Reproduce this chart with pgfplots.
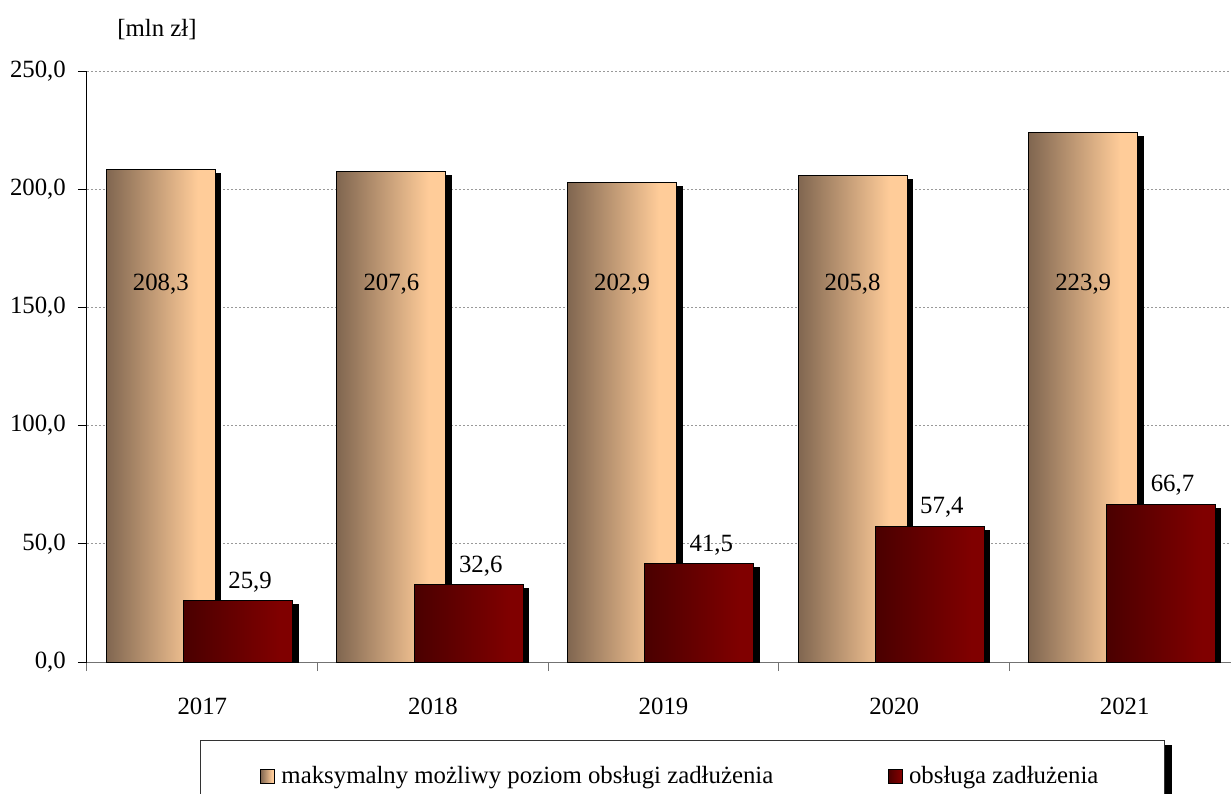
\documentclass[12pt,border=0pt]{standalone}
\usepackage{fontspec}
\setmainfont{Liberation Serif}
\usepackage{pgfplots}
\pgfplotsset{compat=1.18}
\usetikzlibrary{shadows,backgrounds}

\definecolor{peachD}{HTML}{806650}
\definecolor{peachL}{HTML}{FFCC99}
\definecolor{redD}{HTML}{4A0000}
\definecolor{redL}{HTML}{800000}
\pgfdeclarehorizontalshading{peachsh}{100bp}{color(0bp)=(peachD); color(25bp)=(peachD); color(67bp)=(peachL); color(100bp)=(peachL)}
\pgfdeclarehorizontalshading{redsh}{100bp}{color(0bp)=(redD); color(25bp)=(redD); color(69bp)=(redL); color(100bp)=(redL)}

\pgfplotsset{
  sqlegend/.style={legend image code/.code={\draw[##1] (0pt,-3.5pt) rectangle (7pt,3.5pt);}},
  barA/.style={ybar, forget plot, bar width=54.5pt, bar shift=-20.75pt, draw=black, line width=0.5pt},
  barB/.style={ybar, forget plot, bar width=54.5pt, bar shift=17.9pt, draw=black, line width=0.5pt},
  shadowed/.style={fill=black, drop shadow={shadow xshift=2.75pt, shadow yshift=-2pt, fill=black, opacity=1}},
}

\begin{document}
\fontsize{12.4}{14.5}\selectfont
\begin{tikzpicture}
\begin{axis}[
  scale only axis, width=576.5pt, height=295.5pt,
  xmin=-0.5, xmax=4.5, ymin=0, ymax=250,
  axis x line=bottom, axis y line=left,
  axis line style={-, line width=0.5pt},
  x axis line style={black!55},
  ytick={0,50,...,250},
  xtick={0,...,4}, xticklabels={2017,2018,2019,2020,2021},
  minor xtick={-0.5,0.5,...,4.5},
  tick align=outside, major tick length=4.5pt, minor tick length=4.5pt,
  major x tick style={draw=none},
  minor x tick style={black!55, line width=0.5pt},
  major y tick style={black, line width=0.5pt},
  ymajorgrids, grid style={black!40, dash pattern=on 1pt off 1pt, line width=0.5pt},
  /pgf/number format/.cd, use comma, fixed, fixed zerofill, precision=1, assume math mode=true,
  /pgfplots/.cd,
  yticklabel style={xshift=-1.75pt},
  xticklabel style={yshift=-9pt},
  legend style={name=leg, at={(0.098,-0.132)}, anchor=north west, legend columns=2,
    draw=black!80, fill=white, line width=0.5pt, inner xsep=29.8pt, inner ysep=9.5pt,
    nodes={inner sep=3.2pt},
    /tikz/every even column/.append style={column sep=54pt}},
]
\addlegendimage{sqlegend, draw=black, line width=0.5pt, shade, shading=peachsh}
\addlegendentry{maksymalny możliwy poziom obsługi zadłużenia}
\addlegendimage{sqlegend, draw=black, line width=0.5pt, shade, shading=redsh}
\addlegendentry{obsługa zadłużenia}

% maksymalny możliwy poziom obsługi zadłużenia
\addplot[barA, shadowed] coordinates {(0,208.3) (1,207.6) (2,202.9) (3,205.8) (4,223.9)};
\addplot[barA, shade, shading=peachsh] coordinates {(0,208.3)};
\addplot[barA, shade, shading=peachsh] coordinates {(1,207.6)};
\addplot[barA, shade, shading=peachsh] coordinates {(2,202.9)};
\addplot[barA, shade, shading=peachsh] coordinates {(3,205.8)};
\addplot[barA, shade, shading=peachsh] coordinates {(4,223.9)};
% obsługa zadłużenia
\addplot[barB, shadowed] coordinates {(0,25.9) (1,32.6) (2,41.5) (3,57.4) (4,66.7)};
\addplot[barB, shade, shading=redsh] coordinates {(0,25.9)};
\addplot[barB, shade, shading=redsh] coordinates {(1,32.6)};
\addplot[barB, shade, shading=redsh] coordinates {(2,41.5)};
\addplot[barB, shade, shading=redsh] coordinates {(3,57.4)};
\addplot[barB, shade, shading=redsh] coordinates {(4,66.7)};

% etykiety
\addplot[forget plot, draw=none, mark=none, nodes near coords, point meta=explicit,
  nodes near coords style={text=black, anchor=center, xshift=-20.75pt}]
  coordinates {(0,160) [208.3] (1,160) [207.6] (2,160) [202.9] (3,160) [205.8] (4,160) [223.9]};
\addplot[forget plot, draw=none, mark=none, nodes near coords, point meta=y,
  nodes near coords style={text=black, anchor=south, xshift=23.9pt}]
  coordinates {(0,25.9) (1,32.6) (2,41.5) (3,57.4) (4,66.7)};
\end{axis}
\begin{scope}[on background layer]
\fill[black] ([shift={(3.5pt,-2.5pt)}]leg.south west) rectangle ([shift={(3.5pt,-2.5pt)}]leg.north east);
\end{scope}
\node at ([shift={(35pt,20.5pt)}]current axis.north west) {[mln zł]};
\pgfresetboundingbox
\path[use as bounding box] ([shift={(-43.5pt,-65.5pt)}]current axis.south west) rectangle ([shift={(572pt,331pt)}]current axis.south west);
\end{tikzpicture}
\end{document}
